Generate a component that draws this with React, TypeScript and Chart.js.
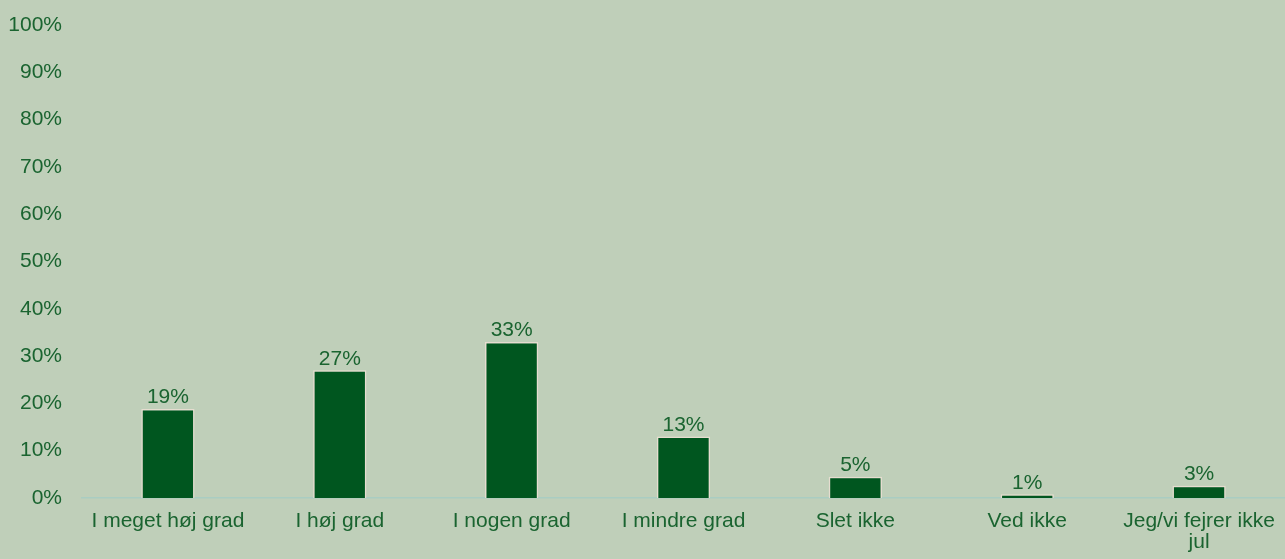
import React, { useEffect, useRef } from 'react';
import { Chart, registerables } from 'chart.js';

Chart.register(...registerables);

const categories = [
  'I meget høj grad',
  'I høj grad',
  'I nogen grad',
  'I mindre grad',
  'Slet ikke',
  'Ved ikke',
  ['Jeg/vi fejrer ikke', 'jul'],
];
const shares = [18.8, 27, 33, 13, 4.5, 0.8, 2.6];
const shareLabels = ['19%', '27%', '33%', '13%', '5%', '1%', '3%'];

const BG = '#bfcfb9';
const TEXT = '#1a6430';
const BAR = '#00561f';
const FONT = '"Liberation Sans", Arial, sans-serif';

// draws the percentage above each bar
const valueLabels = {
  id: 'valueLabels',
  afterDatasetsDraw(chart: Chart) {
    const { ctx } = chart;
    const meta = chart.getDatasetMeta(0);
    ctx.save();
    ctx.font = '21px ' + FONT;
    ctx.fillStyle = TEXT;
    ctx.textAlign = 'center';
    ctx.textBaseline = 'bottom';
    meta.data.forEach((bar: any, i: number) => {
      ctx.fillText(shareLabels[i], bar.x, bar.y - 1);
    });
    ctx.restore();
  },
};

const App: React.FC = () => {
  const canvasRef = useRef<HTMLCanvasElement>(null);

  useEffect(() => {
    document.body.style.margin = '0';
    document.body.style.background = BG;
    if (!canvasRef.current) return;
    const chart = new Chart(canvasRef.current, {
      type: 'bar',
      data: {
        labels: categories as any,
        datasets: [{
          data: shares,
          backgroundColor: BAR,
          borderColor: '#e6ddd0',
          borderWidth: 1.5,
          barPercentage: 0.31,
          categoryPercentage: 1,
        }],
      },
      options: {
        animation: false,
        responsive: true,
        maintainAspectRatio: false,
        layout: { padding: { top: 25, right: 0, left: 0, bottom: 0 } },
        plugins: {
          legend: { display: false },
          tooltip: { enabled: false },
        },
        scales: {
          x: {
            grid: { display: false, drawTicks: false },
            border: { color: '#a9cdc2', width: 1.5 },
            ticks: {
              color: TEXT,
              font: { size: 21, family: FONT, lineHeight: 1.0 },
              padding: 13,
              maxRotation: 0,
              autoSkip: false,
            },
            afterFit: (s: any) => { s.height = 61; s.paddingLeft = 0; s.paddingRight = 0; },
          },
          y: {
            min: 0,
            max: 100,
            grid: { display: false, drawTicks: false },
            border: { display: false },
            ticks: {
              stepSize: 10,
              color: TEXT,
              font: { size: 21, family: FONT },
              padding: 20,
              callback: (v: any) => v + '%',
            },
            afterFit: (s: any) => { s.width = 82; s.paddingTop = 0; s.paddingBottom = 0; },
          },
        },
      },
      plugins: [valueLabels],
    });
    return () => chart.destroy();
  }, []);

  return (
    <div style={{ width: '1285px', height: '559px', background: BG, position: 'relative' }}>
      <canvas ref={canvasRef} />
    </div>
  );
};

export default App;
